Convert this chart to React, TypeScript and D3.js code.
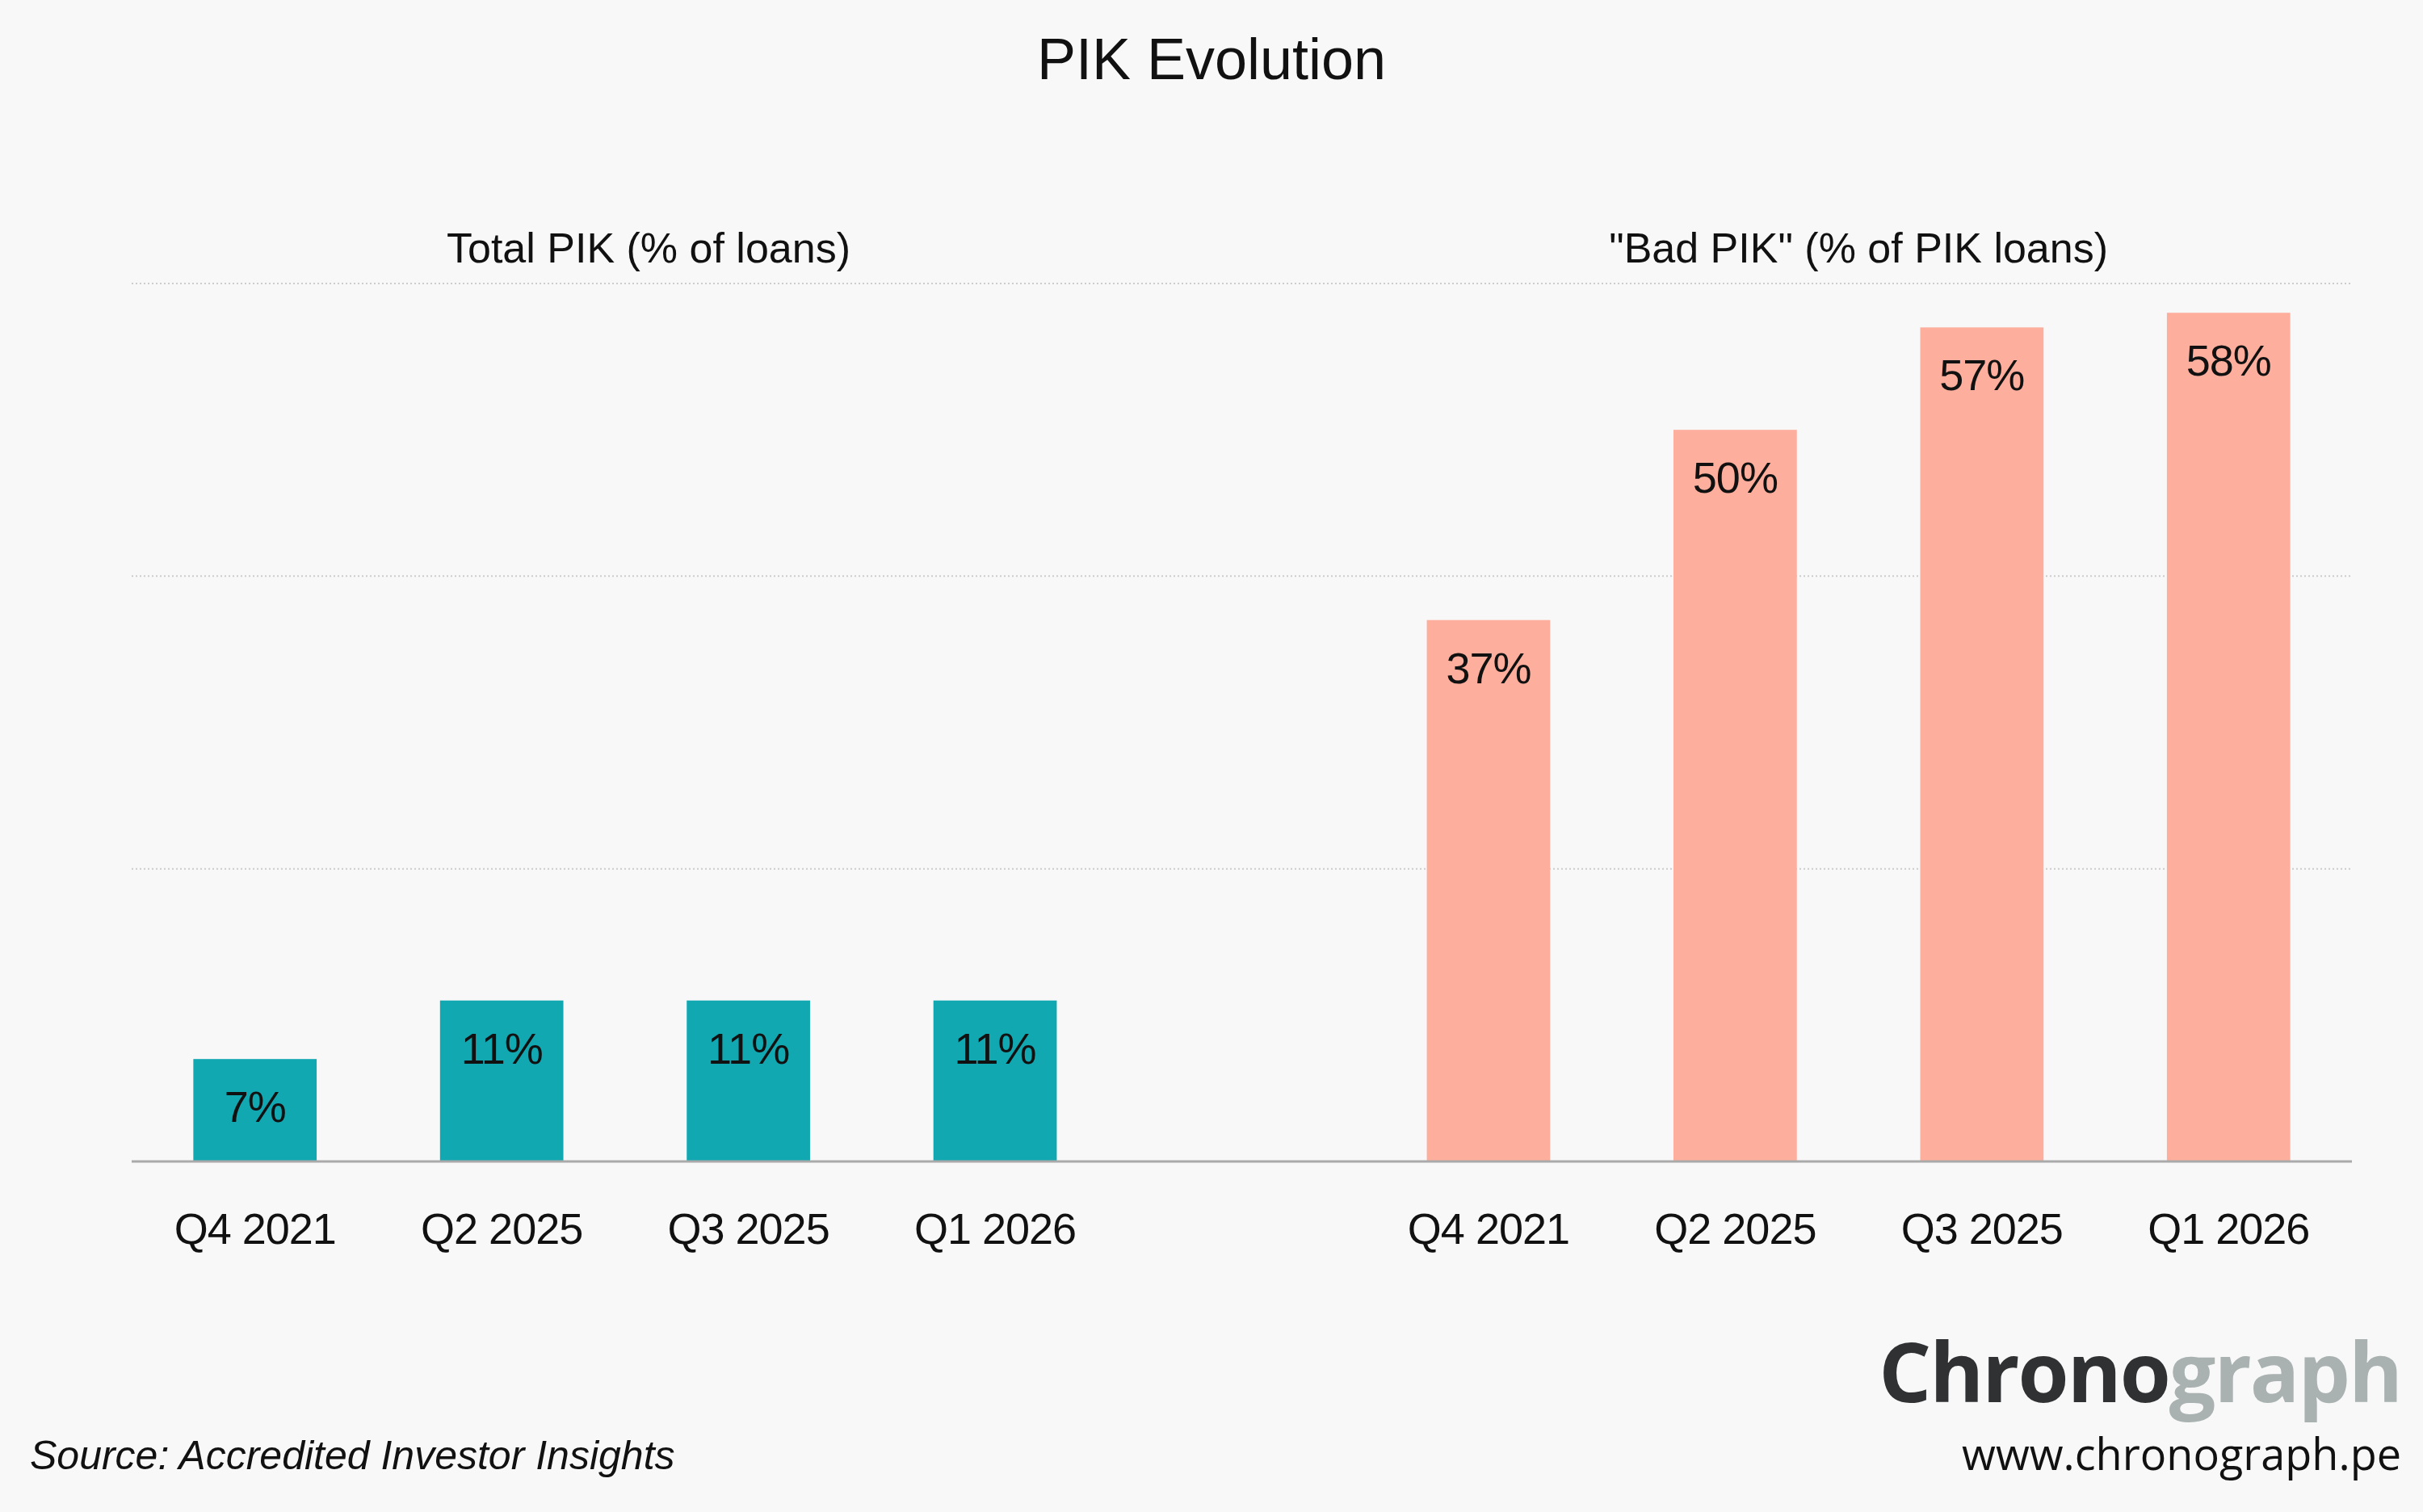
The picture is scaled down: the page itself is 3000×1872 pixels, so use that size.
import { useEffect } from "react";
import * as d3 from "d3";

const quarters = ["Q4 2021", "Q2 2025", "Q3 2025", "Q1 2026"];
const totalPik = [7, 11, 11, 11];
const badPik = [37, 50, 57, 58];
const yTicks = [20, 40, 60];

const TITLE = "PIK Evolution";
const LEFT_TITLE = "Total PIK (% of loans)";
const RIGHT_TITLE = "\"Bad PIK\" (% of PIK loans)";
const SOURCE = "Source: Accredited Investor Insights";

const WIDTH = 3000;
const HEIGHT = 1872;
const FONT = "'Liberation Sans', Arial, sans-serif";
const TEAL = "#12a8b2";
const SALMON = "#fdae9d";

type Bar = { key: string; label: string; value: number; color: string };

const bars: Bar[] = [
  ...quarters.map((q, i) => ({ key: "L " + q, label: q, value: totalPik[i], color: TEAL })),
  ...quarters.map((q, i) => ({ key: "R " + q, label: q, value: badPik[i], color: SALMON })),
];

// empty slot between the two groups
const slots = [...bars.slice(0, 4).map((b) => b.key), "gap", ...bars.slice(4).map((b) => b.key)];

export default function App() {
  useEffect(() => {
    document.body.style.margin = "0";
    document.body.style.background = "#f8f8f8";
  }, []);

  const x = d3
    .scaleBand<string>()
    .domain(slots)
    .range([163, 2912])
    .paddingInner(0.5)
    .paddingOuter(0.25);
  const y = d3.scaleLinear().domain([0, 60]).range([1438, 351]);

  const leftCenter = 803;
  const rightCenter = ((x(bars[4].key) ?? 0) + (x(bars[7].key) ?? 0) + x.bandwidth()) / 2;

  return (
    <svg width={WIDTH} height={HEIGHT} style={{ display: "block" }} fontFamily={FONT}>
      <rect width={WIDTH} height={HEIGHT} fill="#f8f8f8" />

      <text x={WIDTH / 2} y={98} textAnchor="middle" fontSize={72} fill="#111">
        {TITLE}
      </text>
      <text x={leftCenter} y={325} textAnchor="middle" fontSize={52} fill="#111">
        {LEFT_TITLE}
      </text>
      <text x={rightCenter} y={325} textAnchor="middle" fontSize={52} fill="#111">
        {RIGHT_TITLE}
      </text>

      {yTicks.map((t) => (
        <line
          key={t}
          x1={163}
          x2={2912}
          y1={y(t)}
          y2={y(t)}
          stroke="#cccccc"
          strokeWidth={2}
          strokeDasharray="2,3"
        />
      ))}

      {bars.map((b) => {
        const bx = x(b.key) ?? 0;
        return (
          <g key={b.key}>
            <rect x={bx} y={y(b.value)} width={x.bandwidth()} height={y(0) - y(b.value)} fill={b.color} />
            <text
              x={bx + x.bandwidth() / 2}
              y={y(b.value) + 78}
              textAnchor="middle"
              fontSize={54}
              letterSpacing={-1}
              fill="#111"
            >
              {b.value}%
            </text>
            <text
              x={bx + x.bandwidth() / 2}
              y={1540}
              textAnchor="middle"
              fontSize={54}
              letterSpacing={-1}
              fill="#111"
            >
              {b.label}
            </text>
          </g>
        );
      })}

      <line x1={163} x2={2912} y1={y(0)} y2={y(0)} stroke="#aaaaaa" strokeWidth={3} />

      <text x={37} y={1819} fontSize={50} fontStyle="italic" fill="#111">
        {SOURCE}
      </text>

      <text
        x={2973}
        y={1736}
        textAnchor="end"
        fontSize={102}
        fontWeight={700}
        fontFamily="'Open Sans', 'Noto Sans', sans-serif"
        letterSpacing={-2}
      >
        <tspan fill="#2f3133">Chrono</tspan>
        <tspan fill="#a9b1b1">graph</tspan>
      </text>
      <text
        x={2973}
        y={1820}
        textAnchor="end"
        fontSize={54}
        fontWeight={500}
        fontFamily="'Open Sans', 'Noto Sans', sans-serif"
        fill="#111"
      >
        www.chronograph.pe
      </text>
    </svg>
  );
}
